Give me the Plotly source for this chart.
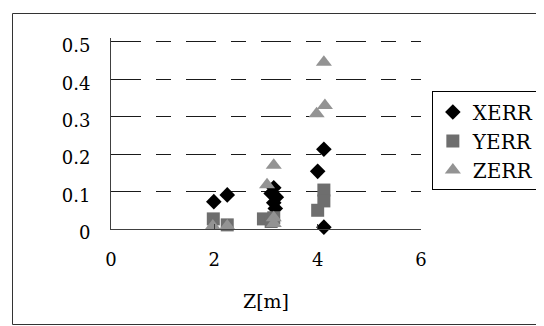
import plotly.graph_objects as go

# Data
xerr_z = [1.99, 2.25, 3.15, 3.1, 3.2, 3.15, 3.18, 4.0, 4.12, 4.12]
xerr_v = [0.073, 0.091, 0.11, 0.095, 0.085, 0.07, 0.055, 0.154, 0.213, 0.005]

yerr_z = [1.98, 2.25, 2.95, 3.1, 3.15, 4.12, 4.12, 4.0]
yerr_v = [0.027, 0.011, 0.027, 0.02, 0.03, 0.104, 0.075, 0.05]

zerr_z = [1.97, 2.25, 3.15, 3.02, 3.15, 3.15, 4.12, 4.14, 3.98]
zerr_v = [0.008, 0.008, 0.17, 0.118, 0.03, 0.015, 0.445, 0.33, 0.308]

x_ticks = [0, 2, 4, 6]
y_ticks = [0, 0.1, 0.2, 0.3, 0.4, 0.5]
y_tick_text = ["0", "0.1", "0.2", "0.3", "0.4", "0.5"]

FONT = "DejaVu Serif"

fig = go.Figure()
fig.add_trace(go.Scatter(x=xerr_z, y=xerr_v, mode="markers", name="XERR",
                         marker=dict(symbol="diamond", size=12, color="#000000"),
                         cliponaxis=False))
fig.add_trace(go.Scatter(x=yerr_z, y=yerr_v, mode="markers", name="YERR",
                         marker=dict(symbol="square", size=13, color="#6e6e6e"),
                         cliponaxis=False))
fig.add_trace(go.Scatter(x=zerr_z, y=zerr_v, mode="markers", name="ZERR",
                         marker=dict(symbol="triangle-up", size=14, color="#939393"),
                         cliponaxis=False))

fig.update_layout(
    width=544, height=326,
    margin=dict(l=103, r=131, t=30, b=105),
    paper_bgcolor="white", plot_bgcolor="white",
    font=dict(family=FONT, size=18, color="#000000"),
    showlegend=True,
    legend=dict(x=1.035, y=0.72, xanchor="left", yanchor="top",
                bordercolor="#000000", borderwidth=1, bgcolor="white",
                font=dict(family=FONT, size=20), itemwidth=30,
                tracegroupgap=0),
    xaxis=dict(range=[0, 6], tickvals=x_ticks, ticktext=[str(v) for v in x_ticks],
               showgrid=False, zeroline=False, showline=True,
               linecolor="#404040", linewidth=1,
               ticks="inside", ticklen=5, tickcolor="#404040",
               ticklabelstandoff=14,
               title=dict(text="Z[m]", font=dict(family=FONT, size=19), standoff=26)),
    yaxis=dict(range=[0, 0.51], tickvals=y_ticks, ticktext=y_tick_text,
               showgrid=True, gridcolor="#1a1a1a", gridwidth=1,
               griddash="30px,15px,15px,15px",
               zeroline=False, showline=True, linecolor="#404040", linewidth=1,
               ticks="", ticklabelstandoff=16, ticklabelshift=4),
)

# outer chart border
fig.add_shape(type="rect", xref="paper", yref="paper",
              x0=(4.5 - 103) / 310, x1=(533.5 - 103) / 310,
              y0=(221 - 316.5) / 191, y1=(221 - 5.5) / 191,
              line=dict(color="#333333", width=1), layer="above")

fig.write_html("out.html")
